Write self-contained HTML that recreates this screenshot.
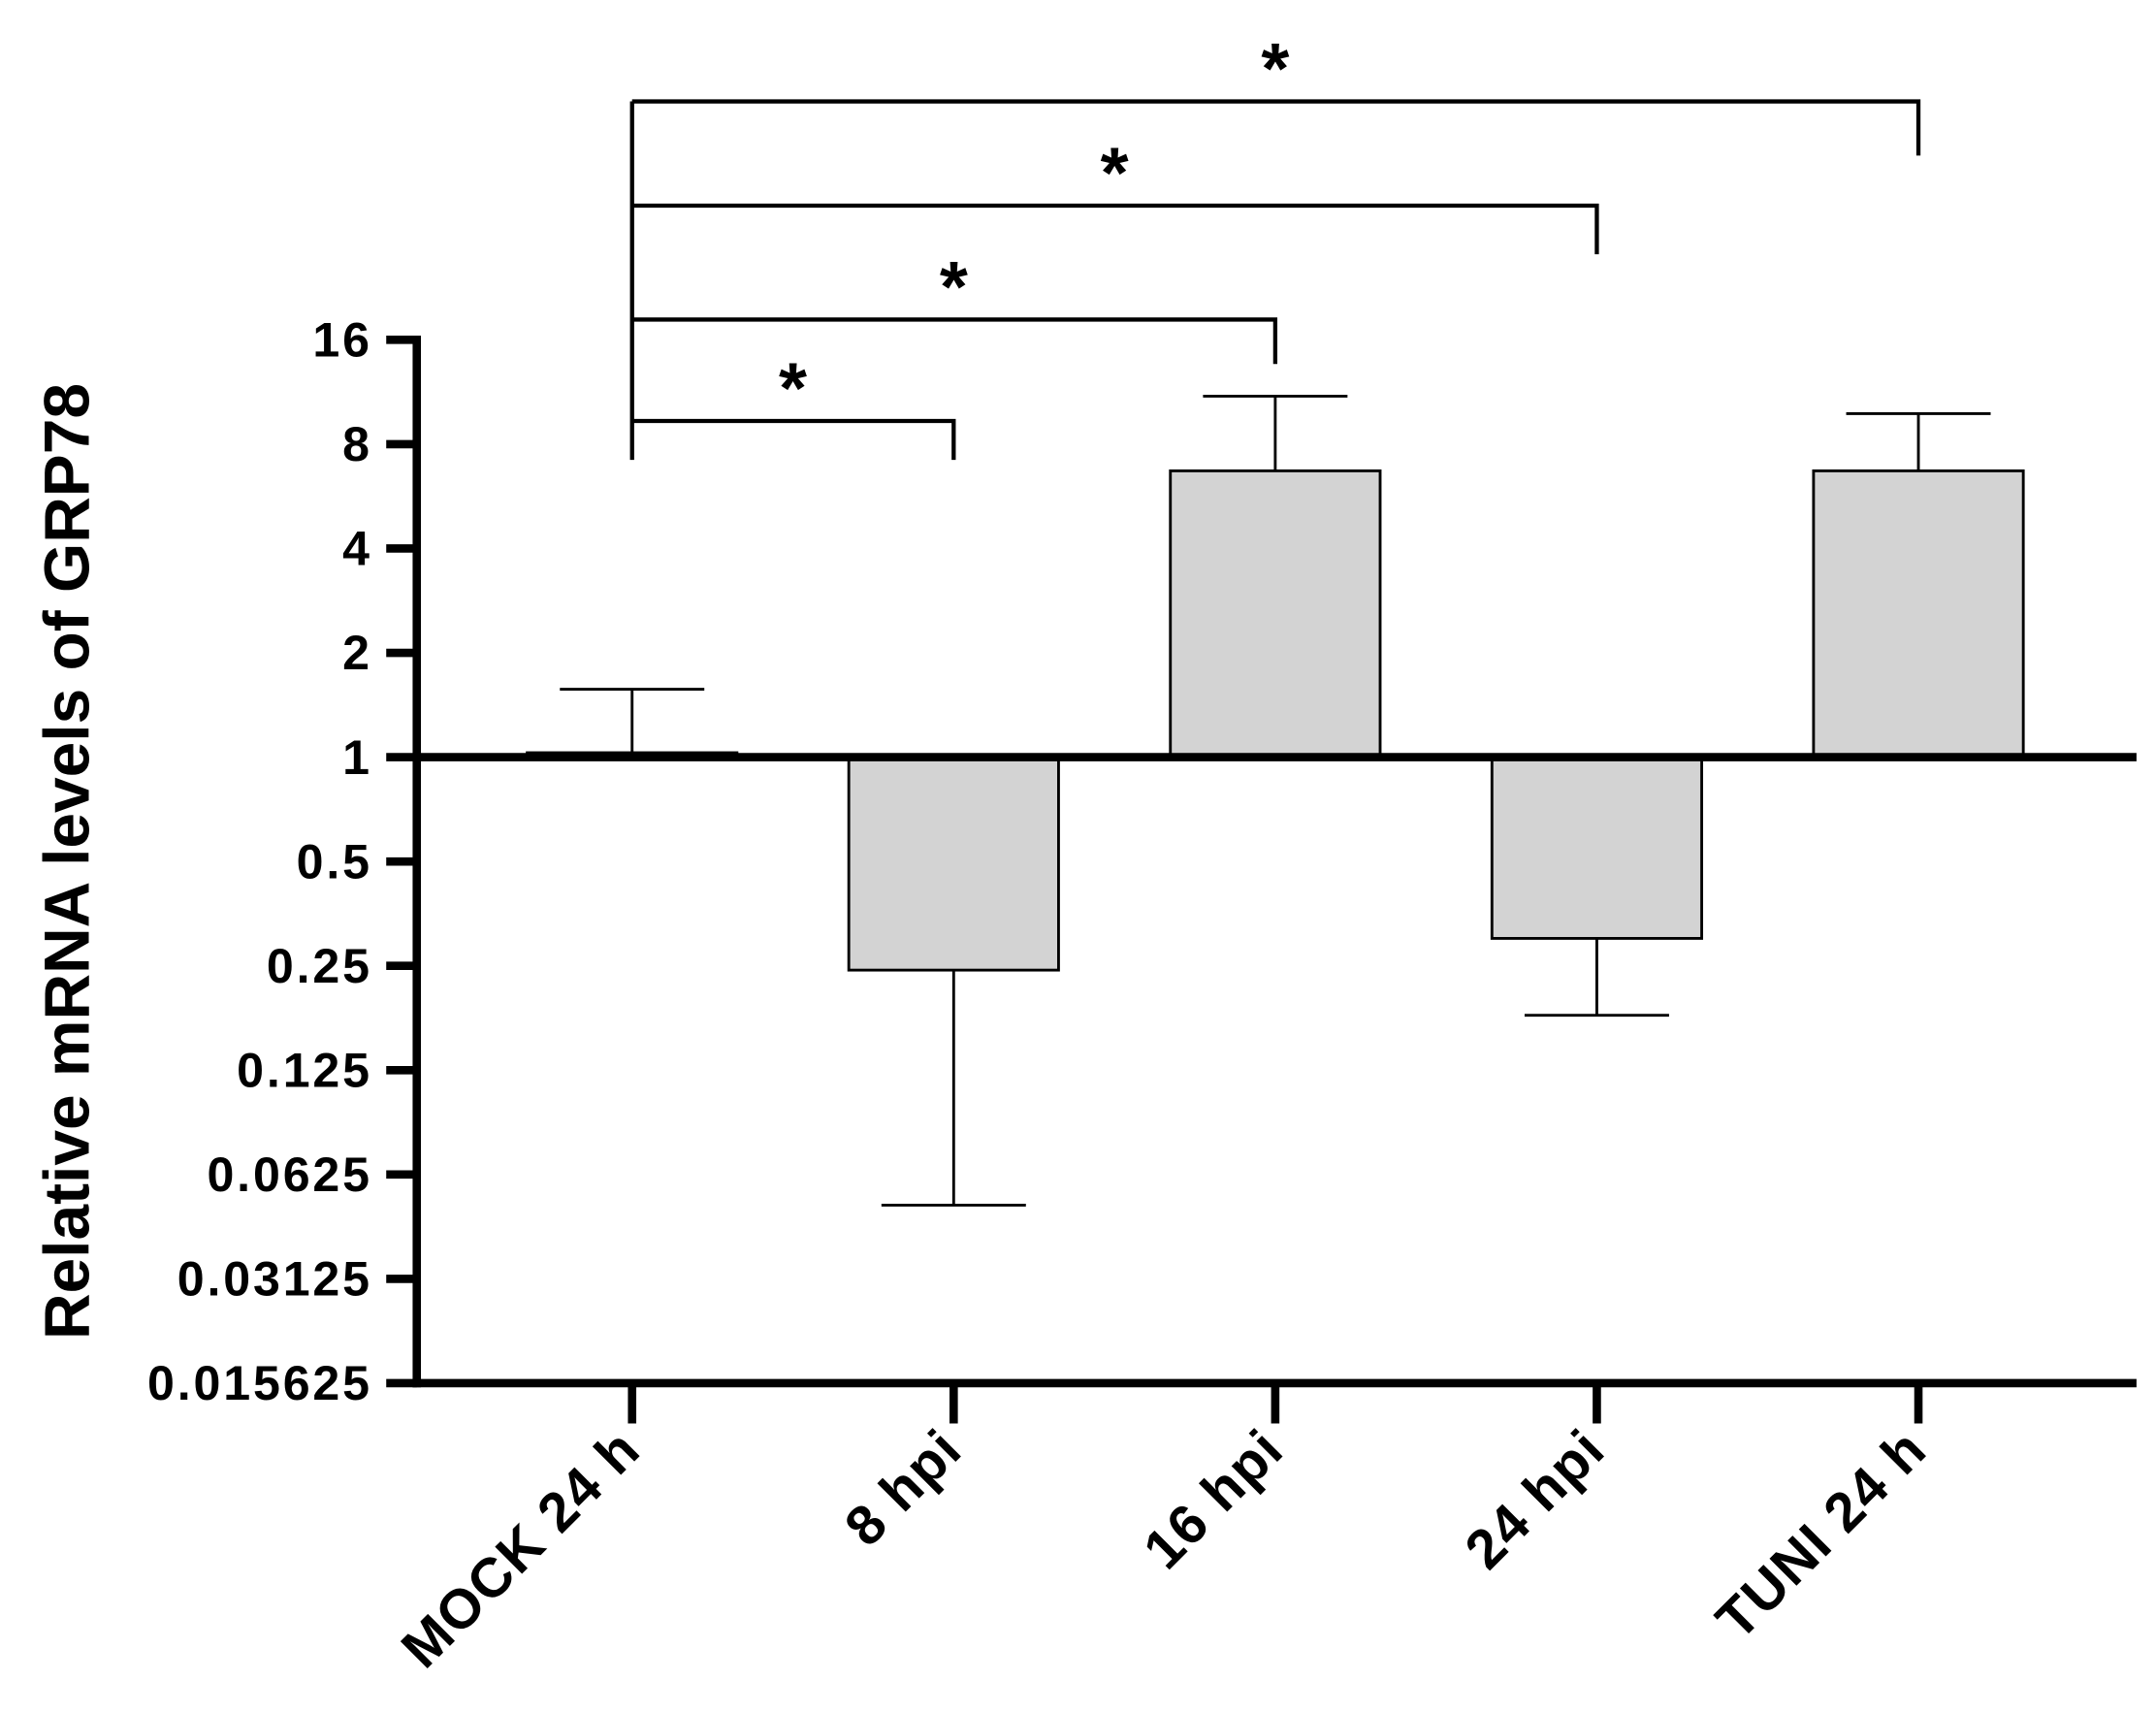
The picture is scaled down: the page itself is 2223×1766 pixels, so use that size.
<!DOCTYPE html>
<html><head><meta charset="utf-8"><style>
html,body{margin:0;padding:0;background:#fff;}
svg{display:block;font-family:"Liberation Sans",Arial,sans-serif;}
</style></head><body>
<svg id="chart" width="2223" height="1766" viewBox="0 0 1552 1233" xmlns="http://www.w3.org/2000/svg"></svg>
<script>
const categories = ["MOCK 24 h", "8 hpi", "16 hpi", "24 hpi", "TUNI 24 h"];
const means = [1.03, 0.243, 6.7, 0.30, 6.7];
const errEnds = [1.57, 0.051, 11.0, 0.18, 9.8];
const yTicks = [16, 8, 4, 2, 1, 0.5, 0.25, 0.125, 0.0625, 0.03125, 0.015625];
const yTickLabels = ["16","8","4","2","1","0.5","0.25","0.125","0.0625","0.03125","0.015625"];
const sigPairs = [[0,1],[0,2],[0,3],[0,4]];
const sigLabels = ["*","*","*","*"];

const NS = "http://www.w3.org/2000/svg";
const svg = document.getElementById("chart");
const X0 = 300, X1 = 1538, Y1 = 545, UNIT = 75.1;
function yScale(v){ return Y1 - Math.log2(v) * UNIT; }
function xScale(i){ return 455 + i * 231.5; }
function el(tag, attrs, parent){
  const e = document.createElementNS(NS, tag);
  for (const k in attrs) e.setAttribute(k, attrs[k]);
  (parent || svg).appendChild(e);
  return e;
}
const yMinPix = yScale(yTicks[yTicks.length-1]);

categories.forEach((c, i) => {
  const cx = xScale(i), v = means[i], w = 151;
  const yv = yScale(v);
  const r = el("rect", {x: cx - w/2, y: Math.min(yv, Y1), width: w, height: Math.abs(Y1 - yv), fill: "#d3d3d3", stroke: "#000", "stroke-width": 2});
  
  
  const ye = yScale(errEnds[i]);
  const g = el("g", {stroke: "#000", "stroke-width": 2});
  
  
  el("line", {x1: cx, y1: yv, x2: cx, y2: ye}, g);
  el("line", {x1: cx - 52, y1: ye, x2: cx + 52, y2: ye}, g);
});

const ax = el("g", {stroke: "#000", "stroke-width": 6});


el("line", {x1: X0, y1: yScale(16) - 3, x2: X0, y2: yMinPix + 3}, ax);
el("line", {x1: X0 - 3, y1: yMinPix, x2: X1, y2: yMinPix}, ax);
el("line", {x1: X0, y1: Y1, x2: X1, y2: Y1}, ax);

yTicks.forEach((t, i) => {
  const y = yScale(t);
  const l = el("line", {x1: X0 - 22, y1: y, x2: X0, y2: y, stroke: "#000", "stroke-width": 6});
  
  
  const tx = el("text", {x: 268, y: y + 12, "text-anchor": "end", "font-size": 35, "font-weight": "bold", "letter-spacing": 2});
  tx.textContent = yTickLabels[i];
  
  
});

categories.forEach((c, i) => {
  const cx = xScale(i);
  const l = el("line", {x1: cx, y1: yMinPix, x2: cx, y2: yMinPix + 29, stroke: "#000", "stroke-width": 6});
  
  
  const tx = el("text", {x: 0, y: 0, "text-anchor": "end", "font-size": 40, "font-weight": "bold", "letter-spacing": 1, transform: `translate(${cx + 8},${yMinPix + 50}) rotate(-45)`});
  tx.textContent = c;
  
  
});

const yt = el("text", {x: 0, y: 0, "text-anchor": "middle", "font-size": 46, "font-weight": "bold", transform: "translate(64,620) rotate(-90)"});
yt.textContent = "Relative mRNA levels of GRP78";



const levels = [303, 230, 148, 73];
const drops = [331, 262, 183, 112];
const bg = el("g", {stroke: "#000", "stroke-width": 3, fill: "none"});


el("line", {x1: xScale(0), y1: levels[3], x2: xScale(0), y2: drops[0]}, bg);
sigPairs.forEach((p, k) => {
  const xa = xScale(p[0]), xb = xScale(p[1]);
  el("polyline", {points: `${xa},${levels[k]} ${xb},${levels[k]} ${xb},${drops[k]}`}, bg);
  const s = el("text", {x: (xa + xb) / 2, y: levels[k] - 6, "text-anchor": "middle", "font-size": 52, "font-weight": "bold"});
  s.textContent = sigLabels[k];
  
  
});
</script>
</body></html>
